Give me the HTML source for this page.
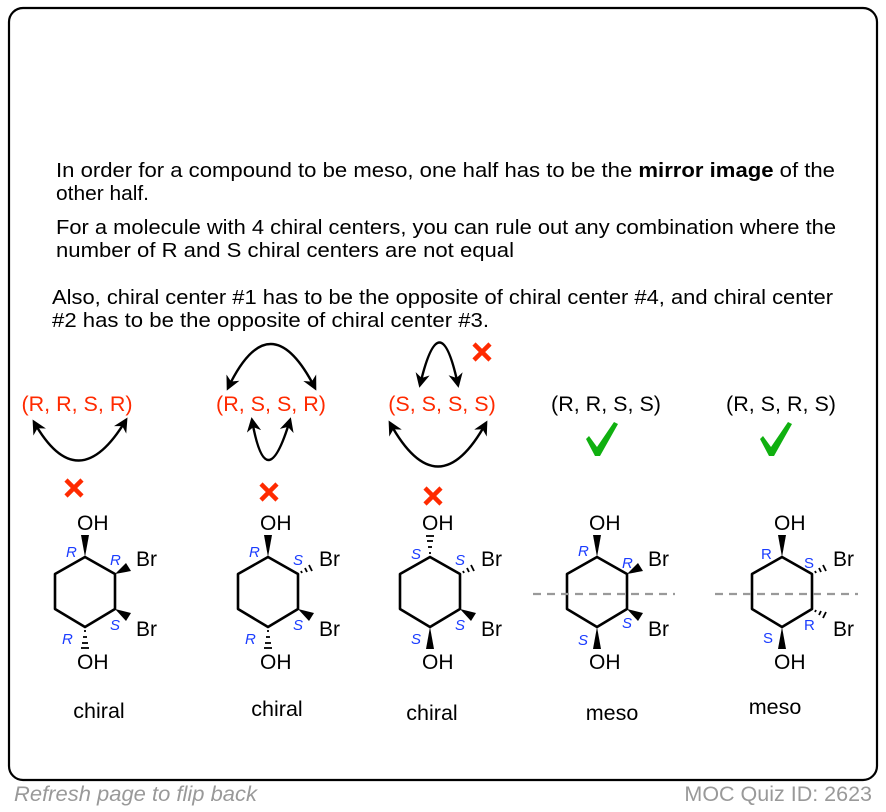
<!DOCTYPE html>
<html><head><meta charset="utf-8"><style>
html,body{margin:0;padding:0;background:#fff}
svg{display:block}
text{font-family:"Liberation Sans",Arial,sans-serif}
</style></head><body>
<svg width="886" height="812" viewBox="0 0 886 812" xmlns="http://www.w3.org/2000/svg">
<defs>
<marker id="ah" viewBox="0 0 10 10" refX="8" refY="5" markerWidth="6" markerHeight="6" orient="auto-start-reverse">
<path d="M0,0 L10,5 L0,10 L3,5 Z" fill="#000"/></marker>
<g id="ring"><polygon points="0,0 30,17 30,52 0,70 -30,52 -30,17" fill="none" stroke="#000" stroke-width="2.6" stroke-linejoin="round"/></g>
<g id="wUp"><polygon points="0,0 -4,-22 4,-22" fill="#000"/></g>
<g id="hUp" stroke="#000" stroke-width="1.8"><line x1="-1" y1="-4" x2="1" y2="-4"/><line x1="-2" y1="-10" x2="2" y2="-10"/><line x1="-3" y1="-16" x2="3" y2="-16"/><line x1="-4" y1="-21" x2="4" y2="-21"/></g>
<g id="wDn"><polygon points="0,70 -4,92 4,92" fill="#000"/></g>
<g id="hDn" stroke="#000" stroke-width="1.8"><line x1="-1" y1="74" x2="1" y2="74"/><line x1="-2" y1="80" x2="2" y2="80"/><line x1="-3" y1="86" x2="3" y2="86"/><line x1="-4" y1="91" x2="4" y2="91"/></g>
<g id="wB1"><polygon points="30,17 41,6 46,14" fill="#000"/></g>
<g id="hB1" stroke="#000" stroke-width="1.8"><line x1="33" y1="14" x2="34" y2="16"/><line x1="37" y1="11" x2="39" y2="15"/><line x1="41" y1="8" x2="44" y2="14"/></g>
<g id="wB2"><polygon points="30,52 46,56 41,64" fill="#000"/></g>
<g id="hB2" stroke="#000" stroke-width="1.8"><line x1="33" y1="55" x2="34" y2="53"/><line x1="37" y1="58" x2="39" y2="54"/><line x1="41" y1="61" x2="44" y2="55"/></g>
<g id="lbl" font-size="21" fill="#000"><text x="-8" y="-27">OH</text><text x="51" y="9">Br</text><text x="51" y="79">Br</text><text x="-8" y="112">OH</text></g>
</defs>
<rect x="9" y="8" width="868" height="772" rx="14" fill="none" stroke="#000" stroke-width="2.2"/>
<g font-size="20.5" fill="#000" lengthAdjust="spacingAndGlyphs">
<text x="56" y="177" textLength="779" lengthAdjust="spacingAndGlyphs">In order for a compound to be meso, one half has to be the <tspan font-weight="bold">mirror image</tspan> of the</text>
<text x="56" y="200" textLength="93" lengthAdjust="spacingAndGlyphs">other half.</text>
<text x="56" y="234" textLength="780" lengthAdjust="spacingAndGlyphs">For a molecule with 4 chiral centers, you can rule out any combination where the</text>
<text x="56" y="257" textLength="458" lengthAdjust="spacingAndGlyphs">number of R and S chiral centers are not equal</text>
<text x="52" y="304" textLength="781" lengthAdjust="spacingAndGlyphs">Also, chiral center #1 has to be the opposite of chiral center #4, and chiral center</text>
<text x="52" y="327" textLength="437" lengthAdjust="spacingAndGlyphs">#2 has to be the opposite of chiral center #3.</text>
</g>
<g font-size="21.5" text-anchor="middle">
<text x="77" y="411" fill="#ff2a00">(R, R, S, R)</text>
<text x="271" y="411" fill="#ff2a00">(R, S, S, R)</text>
<text x="442" y="411" fill="#ff2a00">(S, S, S, S)</text>
<text x="606" y="411" fill="#000">(R, R, S, S)</text>
<text x="781" y="411" fill="#000">(R, S, R, S)</text>
</g>
<g fill="none" stroke="#000" stroke-width="2.4">
<path d="M34,422 Q78,500 126,420" marker-start="url(#ah)" marker-end="url(#ah)"/>
<path d="M228,388 Q270,300 315,388" marker-start="url(#ah)" marker-end="url(#ah)"/>
<path d="M252,420 Q266,500 290,420" marker-start="url(#ah)" marker-end="url(#ah)"/>
<path d="M420,385 Q440,300 458,385" marker-start="url(#ah)" marker-end="url(#ah)"/>
<path d="M390,423 Q438,510 486,423" marker-start="url(#ah)" marker-end="url(#ah)"/>
</g>
<g stroke="#ff2a00" stroke-width="4.5" stroke-linecap="butt">
<path d="M66,480 L82,496 M82,480 L66,496"/>
<path d="M261,484 L277,500 M277,484 L261,500"/>
<path d="M425,488 L441,504 M441,488 L425,504"/>
<path d="M474,344 L490,360 M490,344 L474,360"/>
</g>
<g fill="#10b010">
<path d="M589,436 L597,447 L614,422 L618,424 L600,456 L595,456 L586,439 Z"/>
<path d="M763,436 L771,447 L788,422 L792,424 L774,456 L769,456 L760,439 Z"/>
</g>
<g transform="translate(85,557)">
<use href="#ring"/><use href="#wUp"/><use href="#wB1"/><use href="#wB2"/><use href="#hDn"/><use href="#lbl"/>
<g font-size="15" font-style="italic" fill="#1a3cff"><text x="-19" y="0">R</text><text x="25" y="8">R</text><text x="25" y="73">S</text><text x="-23" y="87">R</text></g>
</g>
<g transform="translate(268,557)">
<use href="#ring"/><use href="#wUp"/><use href="#hB1"/><use href="#wB2"/><use href="#hDn"/><use href="#lbl"/>
<g font-size="15" font-style="italic" fill="#1a3cff"><text x="-19" y="0">R</text><text x="25" y="8">S</text><text x="25" y="73">S</text><text x="-23" y="87">R</text></g>
</g>
<g transform="translate(430,557)">
<use href="#ring"/><use href="#hUp"/><use href="#hB1"/><use href="#wB2"/><use href="#wDn"/><use href="#lbl"/>
<g font-size="15" font-style="italic" fill="#1a3cff"><text x="-19" y="2">S</text><text x="25" y="8">S</text><text x="25" y="73">S</text><text x="-19" y="87">S</text></g>
</g>
<g transform="translate(597,557)">
<use href="#ring"/><use href="#wUp"/><use href="#wB1"/><use href="#wB2"/><use href="#wDn"/><use href="#lbl"/>
<g font-size="15" font-style="italic" fill="#1a3cff"><text x="-19" y="-1">R</text><text x="25" y="11">R</text><text x="25" y="71">S</text><text x="-19" y="88">S</text></g>
</g>
<g transform="translate(782,557)">
<use href="#ring"/><use href="#wUp"/><use href="#hB1"/><use href="#hB2"/><use href="#wDn"/><use href="#lbl"/>
<g font-size="15" fill="#1a3cff"><text x="-21" y="2">R</text><text x="22" y="11">S</text><text x="22" y="73">R</text><text x="-19" y="86">S</text></g>
</g>
<g stroke="#999" stroke-width="2.2" stroke-dasharray="8,6">
<line x1="533" y1="594" x2="675" y2="594"/>
<line x1="715" y1="594" x2="858" y2="594"/>
</g>
<g font-size="21.5" fill="#000" text-anchor="middle">
<text x="99" y="718">chiral</text>
<text x="277" y="716">chiral</text>
<text x="432" y="720">chiral</text>
<text x="612" y="720">meso</text>
<text x="775" y="714">meso</text>
</g>
<text x="14" y="801" font-size="21.5" font-style="italic" fill="#999" textLength="243" lengthAdjust="spacingAndGlyphs">Refresh page to flip back</text>
<text x="872" y="801" font-size="21.5" fill="#999" text-anchor="end">MOC Quiz ID: 2623</text>
</svg>
</body></html>
